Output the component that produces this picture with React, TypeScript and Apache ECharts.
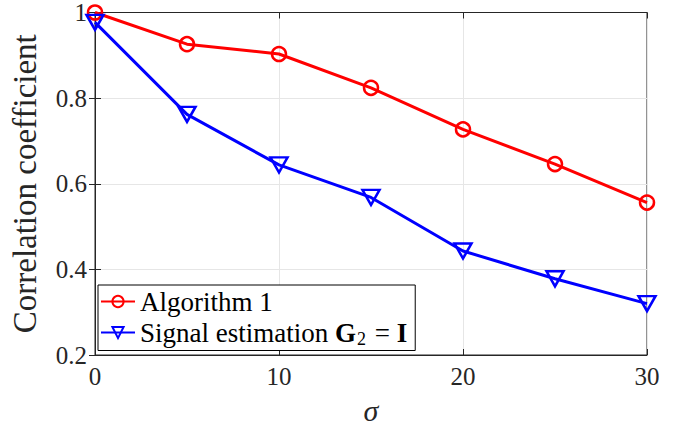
import React, { useEffect, useRef } from "react";
import * as echarts from "echarts";

const sigma = [0, 5, 10, 15, 20, 25, 30];
const algorithm1 = [1.0, 0.926, 0.903, 0.824, 0.727, 0.646, 0.556];
const signalEst = [0.977, 0.762, 0.644, 0.568, 0.443, 0.378, 0.32];
const seriesNames = ["Algorithm 1", "Signal estimation G2 = I"];
const xTicks = [0, 10, 20, 30];
const yTicks = [0.2, 0.4, 0.6, 0.8, 1];

const FONT = "'Liberation Serif', 'Times New Roman', serif";
const AXIS_COLOR = "#262626";

export default function App() {
  const ref = useRef<HTMLDivElement>(null);
  useEffect(() => {
    if (!ref.current) return;
    const chart = echarts.init(ref.current, undefined, { renderer: "svg" });
    const commonX = {
      type: "value" as const,
      min: xTicks[0],
      max: xTicks[xTicks.length - 1],
      interval: 10,
    };
    const commonY = {
      type: "value" as const,
      min: yTicks[0],
      max: yTicks[yTicks.length - 1],
      interval: 0.2,
    };
    chart.setOption({
      animation: false,
      backgroundColor: "#ffffff",
      textStyle: { fontFamily: FONT },
      grid: {
        left: 90,
        right: 36,
        top: 12.5,
        bottom: 72,
        show: true,
        borderColor: AXIS_COLOR,
        borderWidth: 1,
      },
      xAxis: [
        {
          ...commonX,
          position: "bottom",
          name: "σ",
          nameLocation: "middle",
          nameGap: 40,
          nameTextStyle: { fontFamily: FONT, fontSize: 30, fontStyle: "italic", color: AXIS_COLOR },
          axisLine: { show: true, lineStyle: { color: AXIS_COLOR, width: 1 } },
          axisTick: { show: true, inside: true, length: 6, lineStyle: { color: AXIS_COLOR } },
          axisLabel: { fontFamily: FONT, fontSize: 25, color: AXIS_COLOR, margin: 9 },
          splitLine: { show: true, lineStyle: { color: "#e6e6e6", width: 1 } },
        },
        {
          ...commonX,
          position: "top",
          axisLine: { show: true, lineStyle: { color: AXIS_COLOR, width: 1 } },
          axisTick: { show: true, inside: true, length: 6, lineStyle: { color: AXIS_COLOR } },
          axisLabel: { show: false },
          splitLine: { show: false },
        },
      ],
      yAxis: [
        {
          ...commonY,
          position: "left",
          name: "Correlation coefficient",
          nameLocation: "middle",
          nameGap: 54,
          nameTextStyle: { fontFamily: FONT, fontSize: 33, color: AXIS_COLOR },
          axisLine: { show: true, lineStyle: { color: AXIS_COLOR, width: 1 } },
          axisTick: { show: true, inside: true, length: 6, lineStyle: { color: AXIS_COLOR } },
          axisLabel: { fontFamily: FONT, fontSize: 25, color: AXIS_COLOR, margin: 8 },
          splitLine: { show: true, lineStyle: { color: "#e6e6e6", width: 1 } },
        },
        {
          ...commonY,
          position: "right",
          axisLine: { show: true, lineStyle: { color: AXIS_COLOR, width: 1 } },
          axisTick: { show: true, inside: true, length: 6, lineStyle: { color: AXIS_COLOR } },
          axisLabel: { show: false },
          splitLine: { show: false },
        },
      ],
      legend: {
        orient: "vertical",
        left: 98,
        top: 285,
        padding: [3, 8, 3, 2],
        itemGap: 4,
        itemWidth: 34,
        itemHeight: 14,
        borderColor: "#000000",
        borderWidth: 1,
        backgroundColor: "#ffffff",
        data: seriesNames,
        formatter: (name: string) =>
          name === seriesNames[1]
            ? "{t|Signal estimation }{b|G}{sub|2}{t| = }{b|I}"
            : "{t|" + name + "}",
        textStyle: {
          fontFamily: FONT,
          fontSize: 27,
          color: "#000000",
          rich: {
            t: { fontFamily: FONT, fontSize: 27, color: "#000" },
            b: { fontFamily: FONT, fontSize: 27, fontWeight: "bold", color: "#000" },
            sub: { fontFamily: FONT, fontSize: 18, color: "#000", padding: [12, 2, 0, 1] },
          },
        },
      },
      series: [
        {
          name: seriesNames[0],
          type: "line",
          xAxisIndex: 0,
          yAxisIndex: 0,
          clip: false,
          data: sigma.map((s, i) => [s, algorithm1[i]]),
          color: "#ff0000",
          lineStyle: { color: "#ff0000", width: 3 },
          symbol: "circle",
          symbolSize: 14,
          itemStyle: { color: "rgba(255,255,255,0)", borderColor: "#ff0000", borderWidth: 2.5 },
        },
        {
          name: seriesNames[1],
          type: "line",
          xAxisIndex: 0,
          yAxisIndex: 0,
          clip: false,
          data: sigma.map((s, i) => [s, signalEst[i]]),
          color: "#0000ff",
          lineStyle: { color: "#0000ff", width: 3 },
          symbol: "path://M0,0 L12,0 L6,10 Z",
          symbolSize: [17, 15],
          itemStyle: { color: "rgba(255,255,255,0)", borderColor: "#0000ff", borderWidth: 2.5 },
        },
      ],
    });
    return () => chart.dispose();
  }, []);
  return (
    <div
      ref={ref}
      style={{ position: "fixed", left: 0, top: 0, width: 683, height: 430 }}
    />
  );
}
